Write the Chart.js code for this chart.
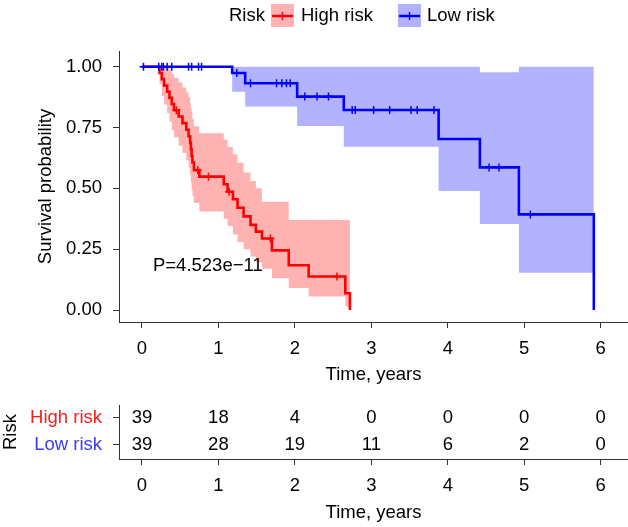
<!DOCTYPE html>
<html><head><meta charset="utf-8">
<script src="https://cdn.jsdelivr.net/npm/chart.js@4.4.1/dist/chart.umd.min.js"></script>
<style>
html,body{margin:0;padding:0;background:#fff;}
#wrap{position:relative;width:628px;height:527px;overflow:hidden;}
#main{position:absolute;left:0;top:0;}
#table{position:absolute;left:0;top:395px;}
</style></head><body>
<div id="wrap"><canvas id="main" width="628" height="395"></canvas><canvas id="table" width="628" height="132"></canvas></div>
<script>
const FONT = "'Liberation Sans', Arial, Helvetica, sans-serif";
const FS = 18.5;
const legendTitle = 'Risk';
const groups = ['High risk', 'Low risk'];
const timeTicks = [0, 1, 2, 3, 4, 5, 6];
const timeTickLabels = ['0', '1', '2', '3', '4', '5', '6'];
const survTicks = [0, 0.25, 0.5, 0.75, 1];
const survTickLabels = ['0.00', '0.25', '0.50', '0.75', '1.00'];
const xTitle = 'Time, years';
const yTitle = 'Survival probability';
const pValueText = 'P=4.523e\u221211';

// High risk: step times, survival, CI lower, CI upper
const highTimes = [0, 0.23, 0.26, 0.29, 0.33, 0.36, 0.39, 0.42, 0.48, 0.53, 0.58, 0.61, 0.63, 0.64, 0.65, 0.66, 0.68, 0.75, 1.07, 1.12, 1.19, 1.25, 1.33, 1.42, 1.49, 1.57, 1.70, 1.92, 2.18, 2.66, 2.72];
const highSurv  = [1, 0.974, 0.949, 0.923, 0.897, 0.872, 0.846, 0.821, 0.795, 0.768, 0.741, 0.714, 0.687, 0.660, 0.633, 0.606, 0.575, 0.548, 0.517, 0.486, 0.455, 0.420, 0.385, 0.350, 0.322, 0.294, 0.245, 0.184, 0.138, 0.069, 0];
const highLower = [1, 0.93, 0.88, 0.845, 0.81, 0.775, 0.74, 0.71, 0.675, 0.645, 0.615, 0.585, 0.555, 0.525, 0.495, 0.47, 0.44, 0.405, 0.375, 0.345, 0.31, 0.28, 0.25, 0.22, 0.195, 0.17, 0.13, 0.09, 0.055, 0.014, 0.014];
const highUpper = [1, 1, 1, 1, 1, 0.985, 0.97, 0.955, 0.935, 0.915, 0.895, 0.875, 0.85, 0.83, 0.81, 0.785, 0.755, 0.726, 0.70, 0.67, 0.64, 0.605, 0.565, 0.53, 0.50, 0.445, 0.445, 0.37, 0.37, 0.37, 0.37];
const highCensor = [0.45, 0.73, 0.87, 1.14, 1.68, 2.55];

// Low risk
const lowTimes = [0, 1.18, 1.35, 2.03, 2.64, 3.88, 4.42, 4.93, 5.91];
const lowSurv  = [1, 0.974, 0.932, 0.877, 0.822, 0.703, 0.586, 0.393, 0];
const lowLower = [1, 0.897, 0.836, 0.756, 0.671, 0.489, 0.353, 0.153, 0.153];
const lowUpper = [1, 1, 1, 1, 1, 1, 0.977, 1, 1];
const lowCensor = [0.02, 0.22, 0.26, 0.28, 0.33, 0.39, 0.61, 0.65, 0.74, 0.78, 1.24, 1.42, 1.76, 1.83, 1.89, 1.94, 2.13, 2.29, 2.44, 2.75, 2.79, 3.03, 3.24, 3.52, 3.60, 3.82, 4.54, 4.67, 5.08];

// Number at risk
const riskHigh = [39, 18, 4, 0, 0, 0, 0];
const riskLow  = [39, 28, 19, 11, 6, 2, 0];

const RED = '#ff0000', BLUE = '#0000ff';
const RED_BAND = 'rgba(255,0,0,0.3)', BLUE_BAND = 'rgba(0,0,255,0.3)';
const TEXT_RED = '#ff1a1a', TEXT_BLUE = '#3b3bff';
const AXIS = '#333333';

function pts(times, vals) { return times.map((t, i) => ({x: t, y: vals[i]})); }
function survAt(times, surv, t) { let s = surv[0]; for (let i = 0; i < times.length; i++) { if (times[i] <= t) s = surv[i]; } return s; }
function censorPts(c, times, surv) { return c.map(t => ({x: t, y: survAt(times, surv, t)})); }

const lineBase = {pointRadius: 0, stepped: true, fill: false};
const datasets = [
  {label: 'lowCensor', data: censorPts(lowCensor, lowTimes, lowSurv), showLine: false, pointStyle: 'cross', pointRadius: 4, pointBorderWidth: 1.5, borderColor: BLUE, pointBorderColor: BLUE},
  {label: 'highCensor', data: censorPts(highCensor, highTimes, highSurv), showLine: false, pointStyle: 'cross', pointRadius: 4, pointBorderWidth: 1.5, borderColor: RED, pointBorderColor: RED},
  Object.assign({label: groups[1], data: pts(lowTimes, lowSurv), borderColor: BLUE, borderWidth: 2.6}, lineBase),
  Object.assign({label: groups[0], data: pts(highTimes, highSurv), borderColor: RED, borderWidth: 2.6}, lineBase),
  Object.assign({}, lineBase, {label: 'lowUpper', data: pts(lowTimes, lowUpper), borderColor: 'transparent', borderWidth: 0, fill: '+1', backgroundColor: BLUE_BAND}),
  Object.assign({}, lineBase, {label: 'lowLower', data: pts(lowTimes, lowLower), borderColor: 'transparent', borderWidth: 0}),
  Object.assign({}, lineBase, {label: 'highUpper', data: pts(highTimes, highUpper), borderColor: 'transparent', borderWidth: 0, fill: '+1', backgroundColor: RED_BAND}),
  Object.assign({}, lineBase, {label: 'highLower', data: pts(highTimes, highLower), borderColor: 'transparent', borderWidth: 0})
];

const font = {family: FONT, size: FS};
function axisStyle() {
  return {
    grid: {display: true, drawOnChartArea: false, drawTicks: true, tickLength: 6, color: AXIS, lineWidth: 1},
    border: {display: true, color: AXIS, width: 1}
  };
}
function fixX(h) { return s => { s.height = h; s.paddingLeft = 0; s.paddingRight = 0; }; }
function fixY(w) { return s => { s.width = w; s.paddingTop = 0; s.paddingBottom = 0; }; }

const overlayMain = {
  id: 'overlayMain',
  afterDraw(chart) {
    const ctx = chart.ctx;
    const xs = chart.scales.x, ys = chart.scales.y;
    ctx.save();
    ctx.font = FS + 'px ' + FONT;
    ctx.fillStyle = '#000';
    ctx.textBaseline = 'middle';
    ctx.textAlign = 'left';
    // p-value
    ctx.fillText(pValueText, xs.getPixelForValue(0.144), ys.getPixelForValue(0.181));
    // legend
    const cy = 16;
    ctx.fillText(legendTitle, 229, cy);
    function key(x, band, line) {
      ctx.fillStyle = band; ctx.fillRect(x, 4, 23, 23);
      ctx.strokeStyle = line; ctx.lineWidth = 2.5;
      ctx.beginPath(); ctx.moveTo(x + 1, cy); ctx.lineTo(x + 22, cy); ctx.stroke();
      ctx.lineWidth = 1.5;
      ctx.beginPath(); ctx.moveTo(x + 11.5, cy - 4); ctx.lineTo(x + 11.5, cy + 4); ctx.stroke();
    }
    key(271, RED_BAND, RED);
    ctx.fillStyle = '#000';
    ctx.fillText(groups[0], 301, cy);
    key(398, BLUE_BAND, BLUE);
    ctx.fillStyle = '#000';
    ctx.fillText(groups[1], 427, cy);
    ctx.restore();
  }
};

new Chart(document.getElementById('main'), {
  type: 'line',
  data: {datasets},
  options: {
    responsive: false, animation: false, devicePixelRatio: 1,
    layout: {autoPadding: false, padding: {top: 51, left: 0, right: 0, bottom: 0}},
    plugins: {legend: {display: false}, tooltip: {enabled: false}},
    scales: {
      x: Object.assign({
        type: 'linear', min: -0.3, max: 6.357,
        afterBuildTicks: s => { s.ticks = timeTicks.map(v => ({value: v})); },
        afterFit: fixX(73),
        ticks: {font, color: '#000', padding: 10, maxRotation: 0, autoSkip: false, callback: (v, i) => timeTickLabels[i]},
        title: {display: true, text: xTitle, font, color: '#000', padding: {top: 0, bottom: 9}}
      }, axisStyle()),
      y: Object.assign({
        type: 'linear', min: -0.0493, max: 1.0645,
        afterBuildTicks: s => { s.ticks = survTicks.map(v => ({value: v})); },
        afterFit: fixY(119),
        ticks: {font, color: '#000', padding: 11, autoSkip: false, callback: (v, i) => survTickLabels[i]},
        title: {display: true, text: yTitle, font, color: '#000', padding: {top: 35, bottom: 0}}
      }, axisStyle())
    }
  },
  plugins: [overlayMain]
});

const overlayTable = {
  id: 'overlayTable',
  afterDraw(chart) {
    const ctx = chart.ctx;
    const xs = chart.scales.x, ys = chart.scales.y;
    ctx.save();
    ctx.font = FS + 'px ' + FONT;
    ctx.fillStyle = '#000';
    ctx.textAlign = 'center';
    ctx.textBaseline = 'middle';
    [riskHigh, riskLow].forEach((row, r) => {
      row.forEach((n, i) => ctx.fillText(String(n), xs.getPixelForValue(timeTicks[i]), ys.getPixelForValue(r)));
    });
    ctx.restore();
  }
};

new Chart(document.getElementById('table'), {
  type: 'scatter',
  data: {datasets: [{data: [], pointRadius: 0}]},
  options: {
    responsive: false, animation: false, devicePixelRatio: 1,
    layout: {autoPadding: false, padding: {top: 10, left: 0, right: 0, bottom: 0}},
    plugins: {legend: {display: false}, tooltip: {enabled: false}},
    scales: {
      x: Object.assign({
        type: 'linear', min: -0.3, max: 6.357,
        afterBuildTicks: s => { s.ticks = timeTicks.map(v => ({value: v})); },
        afterFit: fixX(68),
        ticks: {font, color: '#000', padding: 10, maxRotation: 0, autoSkip: false, callback: (v, i) => timeTickLabels[i]},
        title: {display: true, text: xTitle, font, color: '#000', padding: {top: 0, bottom: 3}}
      }, axisStyle()),
      y: Object.assign({
        type: 'linear', min: -0.46, max: 1.54, reverse: true,
        afterBuildTicks: s => { s.ticks = [0, 1].map(v => ({value: v})); },
        afterFit: fixY(119),
        ticks: {font, padding: 11, autoSkip: false, color: c => (c.index === 0 ? TEXT_RED : TEXT_BLUE), callback: (v, i) => groups[i]},
        title: {display: true, text: legendTitle, font, color: '#000', padding: {top: 0, bottom: 0}}
      }, axisStyle())
    }
  },
  plugins: [overlayTable]
});
</script>
</body></html>
